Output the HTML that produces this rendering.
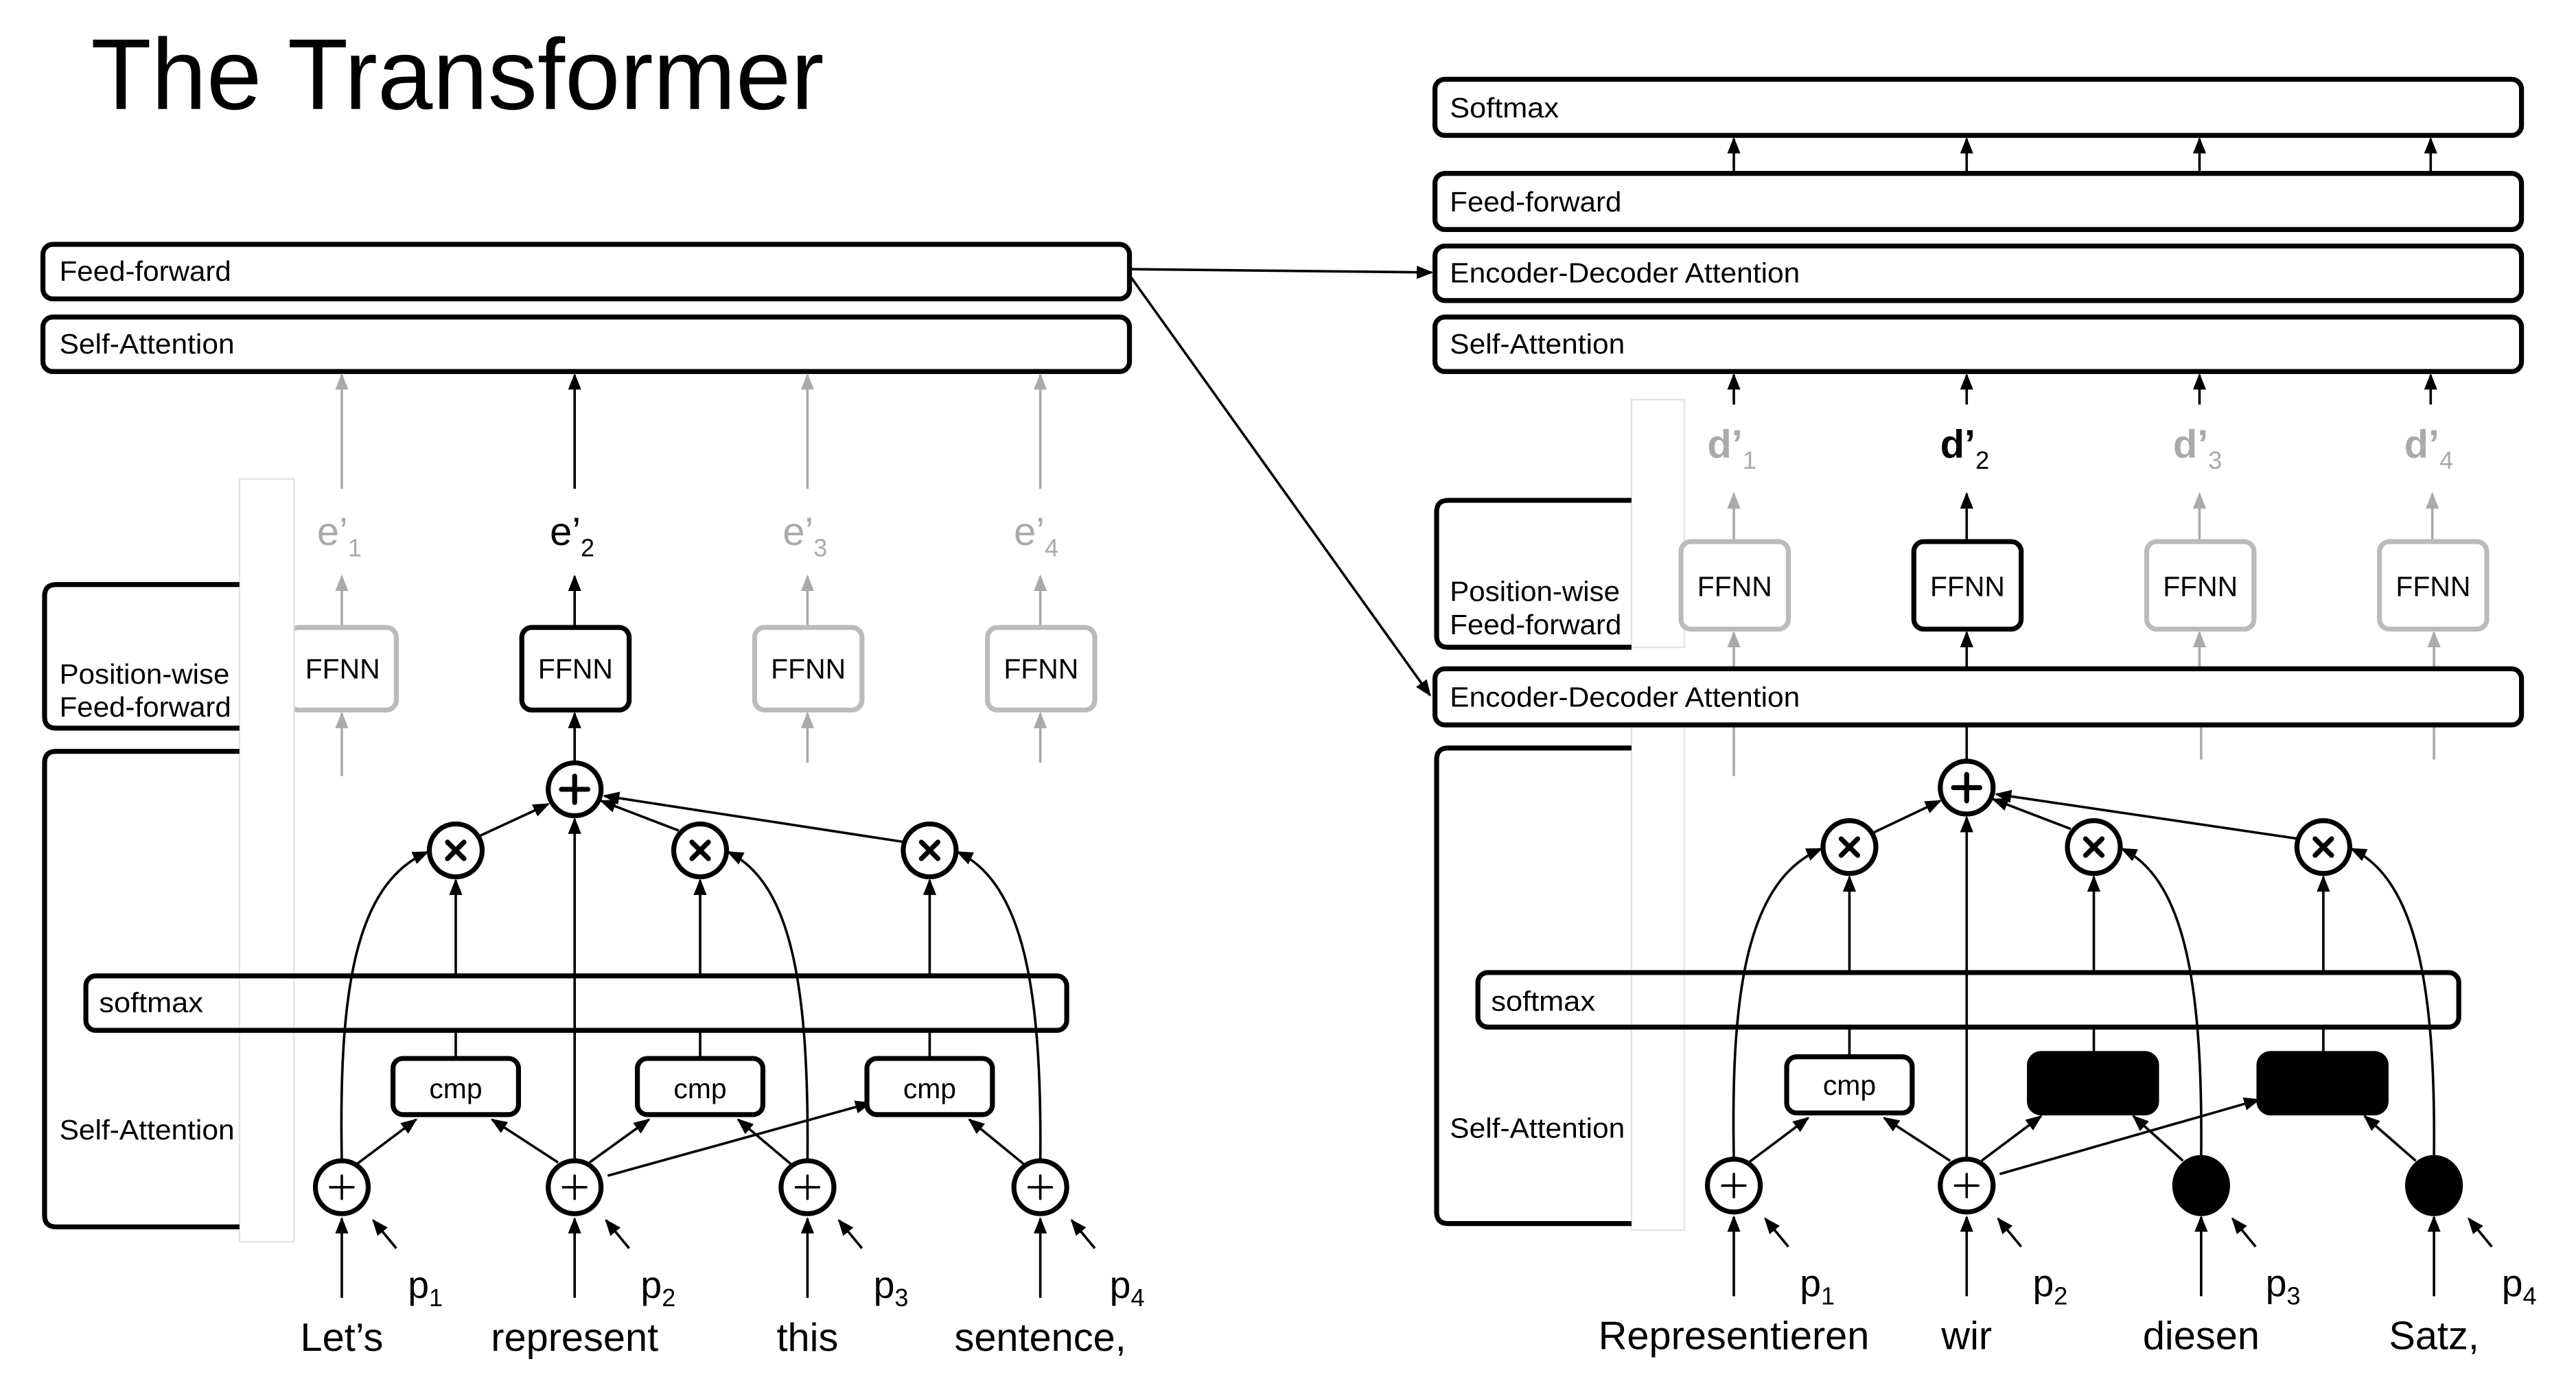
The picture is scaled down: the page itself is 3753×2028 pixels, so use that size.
<!DOCTYPE html>
<html><head><meta charset="utf-8"><style>
html,body{margin:0;padding:0;background:#fff;}
svg{display:block;}
text{font-family:"Liberation Sans",Arial,sans-serif;}
</style></head><body>
<svg width="3753" height="2028" viewBox="0 0 1560 843" preserveAspectRatio="none" xmlns="http://www.w3.org/2000/svg">
<defs>
<marker id="ab" markerUnits="userSpaceOnUse" markerWidth="10" markerHeight="8" refX="9" refY="4" orient="auto"><path d="M0,0 L10,4 L0,8 z" fill="#000"/></marker>
<marker id="ag" markerUnits="userSpaceOnUse" markerWidth="10" markerHeight="8" refX="9" refY="4" orient="auto"><path d="M0,0 L10,4 L0,8 z" fill="#aaa"/></marker>
</defs>
<rect width="1560" height="843" fill="#fff"/>
<text x="55" y="66" font-size="61" textLength="444" lengthAdjust="spacingAndGlyphs" fill="#000">The Transformer</text>

<!-- ===== LEFT (encoder) ===== -->
<g fill="none" stroke="#000" stroke-width="3">
<rect x="26" y="148" width="658" height="33" rx="6" fill="#fff"/>
<rect x="26" y="192" width="658" height="33" rx="6" fill="#fff"/>
</g>
<g font-size="17" fill="#000">
<text x="36" y="170" textLength="104" lengthAdjust="spacingAndGlyphs">Feed-forward</text>
<text x="36" y="214" textLength="106" lengthAdjust="spacingAndGlyphs">Self-Attention</text>
</g>
<g stroke-width="1.5">
<line x1="207" y1="296" x2="207" y2="227" stroke="#aaa" marker-end="url(#ag)"/>
<line x1="348" y1="296" x2="348" y2="227" stroke="#000" marker-end="url(#ab)"/>
<line x1="489" y1="296" x2="489" y2="227" stroke="#aaa" marker-end="url(#ag)"/>
<line x1="630" y1="296" x2="630" y2="227" stroke="#aaa" marker-end="url(#ag)"/>
</g>
<g font-size="24">
<text x="192" y="330" fill="#aaa">e’<tspan font-size="15" dy="7">1</tspan></text>
<text x="333" y="330" fill="#000">e’<tspan font-size="15" dy="7">2</tspan></text>
<text x="474" y="330" fill="#aaa">e’<tspan font-size="15" dy="7">3</tspan></text>
<text x="614" y="330" fill="#aaa">e’<tspan font-size="15" dy="7">4</tspan></text>
</g>
<g stroke-width="1.5">
<line x1="207" y1="380" x2="207" y2="349" stroke="#aaa" marker-end="url(#ag)"/>
<line x1="348" y1="380" x2="348" y2="349" stroke="#000" marker-end="url(#ab)"/>
<line x1="489" y1="380" x2="489" y2="349" stroke="#aaa" marker-end="url(#ag)"/>
<line x1="630" y1="380" x2="630" y2="349" stroke="#aaa" marker-end="url(#ag)"/>
<line x1="207" y1="470" x2="207" y2="432" stroke="#aaa" marker-end="url(#ag)"/>
<line x1="348" y1="462" x2="348" y2="432" stroke="#000" marker-end="url(#ab)"/>
<line x1="489" y1="462" x2="489" y2="432" stroke="#aaa" marker-end="url(#ag)"/>
<line x1="630" y1="462" x2="630" y2="432" stroke="#aaa" marker-end="url(#ag)"/>
</g>
<g stroke-width="3" fill="#fff">
<rect x="175" y="380" width="65" height="50" rx="6" stroke="#bbb"/>
<rect x="316" y="380" width="65" height="50" rx="6" stroke="#000"/>
<rect x="457" y="380" width="65" height="50" rx="6" stroke="#bbb"/>
<rect x="598" y="380" width="65" height="50" rx="6" stroke="#bbb"/>
</g>
<g font-size="17" fill="#000" text-anchor="middle">
<text x="207.5" y="411">FFNN</text><text x="348.5" y="411">FFNN</text><text x="489.5" y="411">FFNN</text><text x="630.5" y="411">FFNN</text>
</g>
<rect x="145" y="290" width="33" height="462" fill="#fff" stroke="#e4e4e4" stroke-width="1"/>
<g fill="none" stroke="#000" stroke-width="3">
<path d="M145,354 L34,354 Q27,354 27,361 L27,434 Q27,441 34,441 L145,441"/>
<path d="M145,455 L34,455 Q27,455 27,462 L27,736 Q27,743 34,743 L145,743"/>
</g>
<g font-size="17" fill="#000">
<text x="36" y="414" textLength="103" lengthAdjust="spacingAndGlyphs">Position-wise</text>
<text x="36" y="434" textLength="104" lengthAdjust="spacingAndGlyphs">Feed-forward</text>
<text x="36" y="690" textLength="106" lengthAdjust="spacingAndGlyphs">Self-Attention</text>
</g>
<g stroke="#000" stroke-width="1.5" fill="none">
<line x1="348" y1="703" x2="348" y2="496" marker-end="url(#ab)"/>
<line x1="291" y1="506" x2="332" y2="487" marker-end="url(#ab)"/>
<line x1="411" y1="503" x2="364" y2="485" marker-end="url(#ab)"/>
<line x1="548" y1="510" x2="366" y2="482" marker-end="url(#ab)"/>
<line x1="276" y1="591" x2="276" y2="533" marker-end="url(#ab)"/>
<line x1="424" y1="591" x2="424" y2="533" marker-end="url(#ab)"/>
<line x1="563" y1="591" x2="563" y2="533" marker-end="url(#ab)"/>
<line x1="276" y1="641" x2="276" y2="624"/>
<line x1="424" y1="641" x2="424" y2="624"/>
<line x1="563" y1="641" x2="563" y2="624"/>
<path d="M207,703 C205,600 215,535 259,516" marker-end="url(#ab)"/>
<path d="M489,703 C490,600 480,535 441,516" marker-end="url(#ab)"/>
<path d="M630,703 C631,600 620,535 580,516" marker-end="url(#ab)"/>
<line x1="216" y1="705" x2="252" y2="678" marker-end="url(#ab)"/>
<line x1="338" y1="704" x2="298" y2="678" marker-end="url(#ab)"/>
<line x1="357" y1="704" x2="393" y2="678" marker-end="url(#ab)"/>
<line x1="368" y1="712" x2="527" y2="668" marker-end="url(#ab)"/>
<line x1="479" y1="705" x2="447" y2="678" marker-end="url(#ab)"/>
<line x1="620" y1="705" x2="587" y2="678" marker-end="url(#ab)"/>
</g>
<rect x="52" y="591" width="594" height="33" rx="6" fill="none" stroke="#000" stroke-width="3"/>
<text x="60" y="613" font-size="17" textLength="63" lengthAdjust="spacingAndGlyphs">softmax</text>
<g stroke="#000" stroke-width="3" fill="#fff">
<rect x="238" y="641" width="76" height="34" rx="6"/>
<rect x="386" y="641" width="76" height="34" rx="6"/>
<rect x="525" y="641" width="76" height="34" rx="6"/>
<circle cx="348" cy="478" r="16"/>
<circle cx="276" cy="515" r="16"/><circle cx="424" cy="515" r="16"/><circle cx="563" cy="515" r="16"/>
<circle cx="207" cy="719" r="16"/><circle cx="348" cy="719" r="16"/><circle cx="489" cy="719" r="16"/><circle cx="630" cy="719" r="16"/>
</g>
<g font-size="17" text-anchor="middle"><text x="276" y="665">cmp</text><text x="424" y="665">cmp</text><text x="563" y="665">cmp</text></g>
<g stroke="#000" stroke-linecap="round">
<path d="M348,470 V486 M340,478 H356" stroke-width="3"/>
<path d="M271,510 L281,520 M281,510 L271,520 M419,510 L429,520 M429,510 L419,520 M558,510 L568,520 M568,510 L558,520" stroke-width="3"/>
<path d="M207,712 V726 M200,719 H214 M348,712 V726 M341,719 H355 M489,712 V726 M482,719 H496 M630,712 V726 M623,719 H637" stroke-width="1.5"/>
</g>
<g stroke="#000" stroke-width="1.5">
<line x1="207" y1="786" x2="207" y2="738" marker-end="url(#ab)"/>
<line x1="348" y1="786" x2="348" y2="738" marker-end="url(#ab)"/>
<line x1="489" y1="786" x2="489" y2="738" marker-end="url(#ab)"/>
<line x1="630" y1="786" x2="630" y2="738" marker-end="url(#ab)"/>
<line x1="240" y1="756" x2="226" y2="739" marker-end="url(#ab)"/>
<line x1="381" y1="756" x2="367" y2="739" marker-end="url(#ab)"/>
<line x1="522" y1="756" x2="508" y2="739" marker-end="url(#ab)"/>
<line x1="663" y1="756" x2="649" y2="739" marker-end="url(#ab)"/>
</g>
<g font-size="23">
<text x="247" y="786">p<tspan font-size="15" dy="5">1</tspan></text>
<text x="388" y="786">p<tspan font-size="15" dy="5">2</tspan></text>
<text x="529" y="786">p<tspan font-size="15" dy="5">3</tspan></text>
<text x="672" y="786">p<tspan font-size="15" dy="5">4</tspan></text>
</g>
<g font-size="24" text-anchor="middle">
<text x="207" y="818">Let’s</text><text x="348" y="818">represent</text><text x="489" y="818">this</text><text x="630" y="818">sentence,</text>
</g>

<g stroke="#000" stroke-width="1.5">
<line x1="685" y1="163" x2="867" y2="165" marker-end="url(#ab)"/>
<line x1="685" y1="168" x2="866" y2="421" marker-end="url(#ab)"/>
</g>

<!-- ===== RIGHT (decoder) ===== -->
<g fill="#fff" stroke="#000" stroke-width="3">
<rect x="869" y="48" width="658" height="34" rx="6"/>
<rect x="869" y="105" width="658" height="34" rx="6"/>
<rect x="869" y="149" width="658" height="33" rx="6"/>
<rect x="869" y="192" width="658" height="33" rx="6"/>
</g>
<g font-size="17">
<text x="878" y="71" textLength="66" lengthAdjust="spacingAndGlyphs">Softmax</text>
<text x="878" y="128" textLength="104" lengthAdjust="spacingAndGlyphs">Feed-forward</text>
<text x="878" y="171" textLength="212" lengthAdjust="spacingAndGlyphs">Encoder-Decoder Attention</text>
<text x="878" y="214" textLength="106" lengthAdjust="spacingAndGlyphs">Self-Attention</text>
</g>
<g stroke="#000" stroke-width="1.5">
<line x1="1050" y1="104" x2="1050" y2="84" marker-end="url(#ab)"/>
<line x1="1191" y1="104" x2="1191" y2="84" marker-end="url(#ab)"/>
<line x1="1332" y1="104" x2="1332" y2="84" marker-end="url(#ab)"/>
<line x1="1472" y1="104" x2="1472" y2="84" marker-end="url(#ab)"/>
<line x1="1050" y1="245" x2="1050" y2="227" marker-end="url(#ab)"/>
<line x1="1191" y1="245" x2="1191" y2="227" marker-end="url(#ab)"/>
<line x1="1332" y1="245" x2="1332" y2="227" marker-end="url(#ab)"/>
<line x1="1472" y1="245" x2="1472" y2="227" marker-end="url(#ab)"/>
</g>
<g font-size="24" font-weight="bold">
<text x="1034" y="277" fill="#aaa">d’<tspan font-size="15" dy="7" font-weight="normal">1</tspan></text>
<text x="1175" y="277" fill="#000">d’<tspan font-size="15" dy="7" font-weight="normal">2</tspan></text>
<text x="1316" y="277" fill="#aaa">d’<tspan font-size="15" dy="7" font-weight="normal">3</tspan></text>
<text x="1456" y="277" fill="#aaa">d’<tspan font-size="15" dy="7" font-weight="normal">4</tspan></text>
</g>
<rect x="988" y="242" width="32" height="150" fill="#fff" stroke="#e4e4e4" stroke-width="1"/>
<rect x="988" y="440" width="32" height="305" fill="#fff" stroke="#e4e4e4" stroke-width="1"/>
<g stroke-width="1.5">
<line x1="1050" y1="328" x2="1050" y2="299" stroke="#aaa" marker-end="url(#ag)"/>
<line x1="1191" y1="328" x2="1191" y2="299" stroke="#000" marker-end="url(#ab)"/>
<line x1="1332" y1="328" x2="1332" y2="299" stroke="#aaa" marker-end="url(#ag)"/>
<line x1="1473" y1="328" x2="1473" y2="299" stroke="#aaa" marker-end="url(#ag)"/>
<line x1="1050" y1="405" x2="1050" y2="383" stroke="#aaa" marker-end="url(#ag)"/>
<line x1="1191" y1="405" x2="1191" y2="383" stroke="#000" marker-end="url(#ab)"/>
<line x1="1332" y1="405" x2="1332" y2="383" stroke="#aaa" marker-end="url(#ag)"/>
<line x1="1474" y1="405" x2="1474" y2="383" stroke="#aaa" marker-end="url(#ag)"/>
<line x1="1050" y1="440" x2="1050" y2="470" stroke="#aaa"/>
<line x1="1333" y1="440" x2="1333" y2="460" stroke="#aaa"/>
<line x1="1474" y1="440" x2="1474" y2="460" stroke="#aaa"/>
<line x1="1191" y1="440" x2="1191" y2="461" stroke="#000"/>
</g>
<g stroke-width="3" fill="#fff">
<rect x="1018" y="328" width="65" height="53" rx="6" stroke="#bbb"/>
<rect x="1159" y="328" width="65" height="53" rx="6" stroke="#000"/>
<rect x="1300" y="328" width="65" height="53" rx="6" stroke="#bbb"/>
<rect x="1441" y="328" width="65" height="53" rx="6" stroke="#bbb"/>
</g>
<g font-size="17" text-anchor="middle">
<text x="1050.5" y="361">FFNN</text><text x="1191.5" y="361">FFNN</text><text x="1332.5" y="361">FFNN</text><text x="1473.5" y="361">FFNN</text>
</g>
<rect x="869" y="405" width="658" height="34" rx="6" fill="#fff" stroke="#000" stroke-width="3"/>
<text x="878" y="428" font-size="17" textLength="212" lengthAdjust="spacingAndGlyphs">Encoder-Decoder Attention</text>
<g fill="none" stroke="#000" stroke-width="3">
<path d="M988,303 L877,303 Q870,303 870,310 L870,385 Q870,392 877,392 L988,392"/>
<path d="M988,453 L877,453 Q870,453 870,460 L870,734 Q870,741 877,741 L988,741"/>
</g>
<g font-size="17">
<text x="878" y="364" textLength="103" lengthAdjust="spacingAndGlyphs">Position-wise</text>
<text x="878" y="384" textLength="104" lengthAdjust="spacingAndGlyphs">Feed-forward</text>
<text x="878" y="689" textLength="106" lengthAdjust="spacingAndGlyphs">Self-Attention</text>
</g>
<g stroke="#000" stroke-width="1.5" fill="none">
<line x1="1191" y1="702" x2="1191" y2="495" marker-end="url(#ab)"/>
<line x1="1135" y1="504" x2="1175" y2="485" marker-end="url(#ab)"/>
<line x1="1254" y1="502" x2="1207" y2="484" marker-end="url(#ab)"/>
<line x1="1392" y1="508" x2="1209" y2="481" marker-end="url(#ab)"/>
<line x1="1120" y1="589" x2="1120" y2="531" marker-end="url(#ab)"/>
<line x1="1268" y1="589" x2="1268" y2="531" marker-end="url(#ab)"/>
<line x1="1407" y1="589" x2="1407" y2="531" marker-end="url(#ab)"/>
<line x1="1120" y1="640" x2="1120" y2="622"/>
<line x1="1268" y1="638" x2="1268" y2="622"/>
<line x1="1407" y1="638" x2="1407" y2="622"/>
<path d="M1050,702 C1048,600 1058,533 1103,514" marker-end="url(#ab)"/>
<path d="M1333,700 C1334,600 1324,533 1285,514" marker-end="url(#ab)"/>
<path d="M1474,700 C1475,600 1464,533 1424,514" marker-end="url(#ab)"/>
<line x1="1059" y1="704" x2="1095" y2="677" marker-end="url(#ab)"/>
<line x1="1181" y1="703" x2="1141" y2="677" marker-end="url(#ab)"/>
<line x1="1200" y1="703" x2="1236" y2="676" marker-end="url(#ab)"/>
<line x1="1211" y1="711" x2="1368" y2="666" marker-end="url(#ab)"/>
<line x1="1322" y1="703" x2="1292" y2="676" marker-end="url(#ab)"/>
<line x1="1463" y1="703" x2="1432" y2="676" marker-end="url(#ab)"/>
</g>
<rect x="895" y="589" width="594" height="33" rx="6" fill="none" stroke="#000" stroke-width="3"/>
<text x="903" y="612" font-size="17" textLength="63" lengthAdjust="spacingAndGlyphs">softmax</text>
<g stroke="#000" stroke-width="3" fill="#fff">
<rect x="1082" y="640" width="76" height="34" rx="6"/>
<rect x="1229" y="638" width="77" height="36" rx="7" fill="#000"/>
<rect x="1368" y="638" width="77" height="36" rx="7" fill="#000"/>
<circle cx="1191" cy="477" r="16"/>
<circle cx="1120" cy="513" r="16"/><circle cx="1268" cy="513" r="16"/><circle cx="1407" cy="513" r="16"/>
<circle cx="1050" cy="718" r="16"/><circle cx="1191" cy="718" r="16"/>
<ellipse cx="1333" cy="718" rx="16" ry="17" fill="#000"/><ellipse cx="1474" cy="718" rx="16" ry="17" fill="#000"/>
</g>
<text x="1120" y="663" font-size="17" text-anchor="middle">cmp</text>
<g stroke="#000" stroke-linecap="round">
<path d="M1191,469 V485 M1183,477 H1199" stroke-width="3"/>
<path d="M1115,508 L1125,518 M1125,508 L1115,518 M1263,508 L1273,518 M1273,508 L1263,518 M1402,508 L1412,518 M1412,508 L1402,518" stroke-width="3"/>
<path d="M1050,711 V725 M1043,718 H1057 M1191,711 V725 M1184,718 H1198" stroke-width="1.5"/>
</g>
<g stroke="#000" stroke-width="1.5">
<line x1="1050" y1="785" x2="1050" y2="737" marker-end="url(#ab)"/>
<line x1="1191" y1="785" x2="1191" y2="737" marker-end="url(#ab)"/>
<line x1="1333" y1="785" x2="1333" y2="737" marker-end="url(#ab)"/>
<line x1="1474" y1="785" x2="1474" y2="737" marker-end="url(#ab)"/>
<line x1="1083" y1="755" x2="1069" y2="738" marker-end="url(#ab)"/>
<line x1="1224" y1="755" x2="1210" y2="738" marker-end="url(#ab)"/>
<line x1="1366" y1="755" x2="1352" y2="738" marker-end="url(#ab)"/>
<line x1="1509" y1="755" x2="1495" y2="738" marker-end="url(#ab)"/>
</g>
<g font-size="23">
<text x="1090" y="785">p<tspan font-size="15" dy="5">1</tspan></text>
<text x="1231" y="785">p<tspan font-size="15" dy="5">2</tspan></text>
<text x="1372" y="785">p<tspan font-size="15" dy="5">3</tspan></text>
<text x="1515" y="785">p<tspan font-size="15" dy="5">4</tspan></text>
</g>
<g font-size="24" text-anchor="middle">
<text x="1050" y="817">Representieren</text><text x="1191" y="817">wir</text><text x="1333" y="817">diesen</text><text x="1474" y="817">Satz,</text>
</g>
</svg>
</body></html>
